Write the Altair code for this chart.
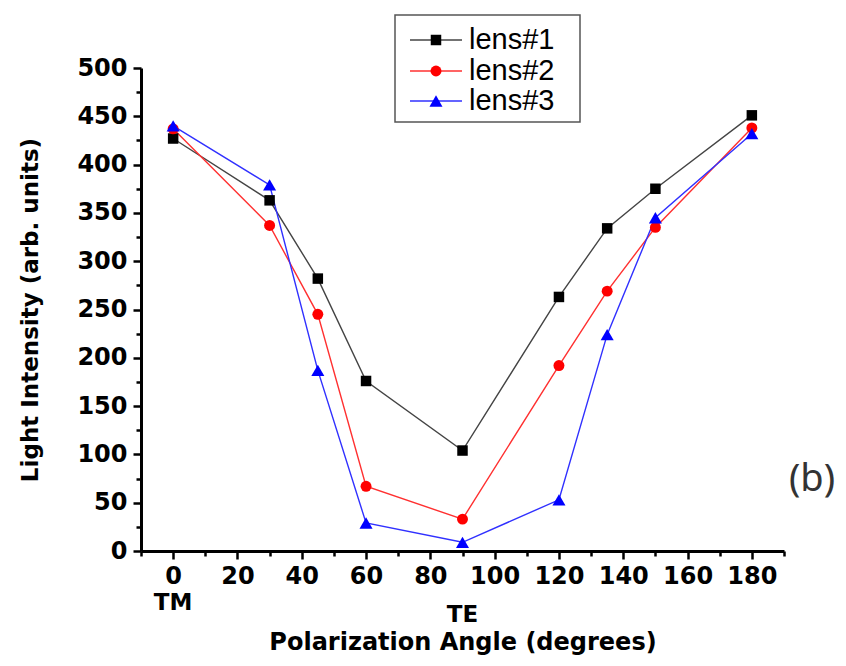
import altair as alt
import pandas as pd

angles = [0, 30, 45, 60, 90, 120, 135, 150, 180]
lens1 = [427, 363, 282, 176, 104, 263, 334, 375, 451]
lens2 = [437, 337, 245, 67, 33, 192, 269, 335, 438]
lens3 = [440, 379, 187, 29, 9, 53, 224, 345, 432]
series = ["lens#1", "lens#2", "lens#3"]
marker_colors = ["#000000", "#ff0000", "#0000ff"]
line_colors = ["#444444", "#ff3030", "#3030ff"]
shapes = ["square", "circle", "triangle-up"]
sizes = [110, 120, 170]

major_x = [0, 20, 40, 60, 80, 100, 120, 140, 160, 180]
minor_x = [-10, 10, 30, 50, 70, 90, 110, 130, 150, 170, 190]
major_y = [0, 50, 100, 150, 200, 250, 300, 350, 400, 450, 500]
minor_y = [25, 75, 125, 175, 225, 275, 325, 375, 425, 475]

annot_x = [0, 90]
annot_text = ["TM", "TE"]

rows = []
for name, vals in zip(series, [lens1, lens2, lens3]):
    for a, v in zip(angles, vals):
        rows.append({"angle": a, "intensity": v, "lens": name})
df = pd.DataFrame(rows)

FONT = "DejaVu Sans"
xscale = alt.Scale(domain=[-10, 190], nice=False, zero=False)
yscale = alt.Scale(domain=[0, 500], nice=False, zero=False)

major_x_axis = alt.Axis(values=major_x, tickSize=8, tickWidth=2.5, domainWidth=3,
                        domainColor="black", tickColor="black",
                        labelFont=FONT, labelFontWeight="bold", labelFontSize=24,
                        labelColor="black", labelPadding=5, labelFlush=False,
                        title="Polarization Angle (degrees)", titleFont=FONT,
                        titleFontWeight="bold", titleFontSize=24, titleColor="black",
                        titlePadding=42, grid=False, orient="bottom")
major_y_axis = alt.Axis(values=major_y, tickSize=8, tickWidth=2.5, domainWidth=3,
                        domainColor="black", tickColor="black",
                        labelFont=FONT, labelFontWeight="bold", labelFontSize=24,
                        labelColor="black", labelPadding=6, labelFlush=False,
                        title="Light Intensity (arb. units)", titleFont=FONT,
                        titleFontWeight="bold", titleFontSize=23, titleColor="black",
                        titlePadding=34, grid=False, orient="left")
minor_x_axis = alt.Axis(values=minor_x, tickSize=5, tickWidth=2.5, domain=False,
                        tickColor="black", labels=False, title=None, grid=False,
                        orient="bottom")
minor_y_axis = alt.Axis(values=minor_y, tickSize=5, tickWidth=2.5, domain=False,
                        tickColor="black", labels=False, title=None, grid=False,
                        orient="left")

lines = alt.Chart(df).mark_line(strokeWidth=1.4).encode(
    x=alt.X("angle:Q", scale=xscale, axis=major_x_axis),
    y=alt.Y("intensity:Q", scale=yscale, axis=major_y_axis),
    color=alt.Color("lens:N", scale=alt.Scale(domain=series, range=line_colors), legend=None),
    detail="lens:N",
)

point_layers = []
for i, name in enumerate(series):
    p = alt.Chart(df[df["lens"] == name]).mark_point(
        filled=True, opacity=1, shape=shapes[i], size=sizes[i], color=marker_colors[i]
    ).encode(
        x=alt.X("angle:Q", scale=xscale, axis=minor_x_axis if i == 0 else None),
        y=alt.Y("intensity:Q", scale=yscale, axis=minor_y_axis if i == 0 else None),
    )
    point_layers.append(p)

annot_df = pd.DataFrame({"x": annot_x, "t": annot_text})
tm = alt.Chart(annot_df[annot_df["t"] == "TM"]).mark_text(
    font=FONT, fontWeight="bold", fontSize=23, color="black", baseline="middle"
).encode(x=alt.X("x:Q", scale=xscale, axis=None), y=alt.value(535), text="t:N")
te = alt.Chart(annot_df[annot_df["t"] == "TE"]).mark_text(
    font=FONT, fontWeight="bold", fontSize=23, color="black", baseline="middle"
).encode(x=alt.X("x:Q", scale=xscale, axis=None), y=alt.value(547), text="t:N")

dummy = pd.DataFrame({"a": [0]})
legend_layers = [
    alt.Chart(dummy).mark_rect(fill="white", stroke="#555555", strokeWidth=1.5).encode(
        x=alt.value(254), x2=alt.value(439), y=alt.value(-53), y2=alt.value(54))
]
row_y = [-28, 3, 33]
for i, name in enumerate(series):
    legend_layers.append(alt.Chart(dummy).mark_rule(color=line_colors[i], strokeWidth=1.4).encode(
        x=alt.value(269), x2=alt.value(321), y=alt.value(row_y[i])))
    legend_layers.append(alt.Chart(dummy).mark_point(
        filled=True, opacity=1, shape=shapes[i], size=sizes[i], color=marker_colors[i]).encode(
        x=alt.value(295), y=alt.value(row_y[i])))
    legend_layers.append(alt.Chart(dummy).mark_text(
        align="left", baseline="middle", font="Liberation Sans", fontSize=29, color="black").encode(
        x=alt.value(328), y=alt.value(row_y[i]), text=alt.value(name)))

label_b = alt.Chart(dummy).mark_text(
    font="Noto Sans", fontSize=38, color="#333333", baseline="middle", align="center"
).encode(x=alt.value(671), y=alt.value(412), text=alt.value("(b)"))

chart = alt.layer(lines, *point_layers, tm, te, *legend_layers, label_b).resolve_axis(
    x="independent", y="independent"
).properties(
    width=643, height=483,
    autosize=alt.AutoSizeParams(type="none"),
    padding={"left": 133, "top": 60, "right": 54, "bottom": 106},
    background="white",
).configure_view(stroke=None)

chart.save("out.html", embed_options={"renderer": "svg", "actions": False})
